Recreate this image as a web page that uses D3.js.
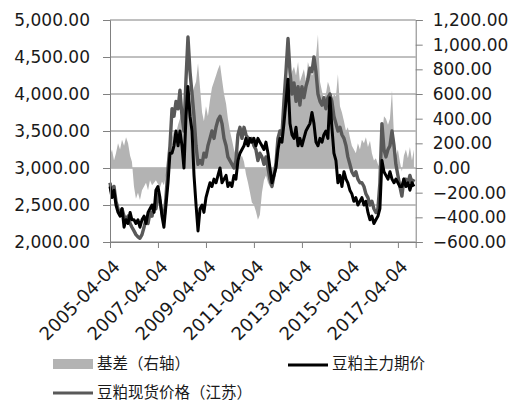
<!DOCTYPE html>
<html>
<head>
<meta charset="utf-8">
<script src="https://cdn.jsdelivr.net/npm/d3@7"></script>
<style>
  body { margin: 0; background: #fff; }
  text { fill: #1a1a1a; }
</style>
</head>
<body>
<div id="chart"></div>
<script>
// monthly readings, starting 2005-04-04
const startDate = "2005-04-04"
const tickLabels = ["2005-04-04", "2007-04-04", "2009-04-04", "2011-04-04", "2013-04-04", "2015-04-04", "2017-04-04"]
const leftTicks = [2000, 2500, 3000, 3500, 4000, 4500, 5000]
const rightTicks = [-600, -400, -200, 0, 200, 400, 600, 800, 1000, 1200]

// 豆粕现货价格（江苏）
const spot = [
  2800, 2650, 2750, 2550, 2450, 2400, 2450, 2350, 2300, 2350, 2250, 2200,
  2150, 2100, 2070, 2050, 2100, 2200, 2300, 2250, 2400, 2350, 2500, 2450,
  2650, 2550, 2400, 2300, 2600, 3000, 3300, 3800, 3700, 3900, 3800, 4050,
  3700, 3500, 4200, 4770, 4300, 4000, 3700, 3300, 3050, 3100, 3050, 3200,
  3150, 3300, 3400, 3500, 3400, 3550, 3650, 3700, 3600, 3400, 3300, 3150,
  3100, 3050, 3000, 3100, 3450, 3550, 3400, 3550, 3450, 3400, 3350, 3400,
  3300, 3250, 3100, 3200, 3150, 3050, 3150, 3000, 2850, 2750, 2900, 3050,
  3400, 3500, 3450, 3900, 4300, 4750, 4300, 4000, 4150, 3900, 4100, 3850,
  4100, 3950, 4100, 4200, 4350, 4300, 4500, 4300, 4000, 3900, 3850, 3950,
  3800, 3950, 4000, 3900, 3700, 3600, 3500, 3550, 3450, 3400, 3300, 3150,
  3050, 2950, 2900, 2950, 2850, 2800, 2800, 2750, 2650, 2600, 2500, 2550,
  2450, 2400, 2450, 2800, 3600, 3250, 3150, 3250, 3300, 3500, 3300, 3050,
  2900, 2750, 2620, 2850, 2850, 2800, 2900, 2800, 2850
]

// 豆粕主力期价
const futures = [
  2750, 2600, 2700, 2500, 2400, 2350, 2450, 2200, 2300, 2250, 2400, 2300,
  2300, 2250, 2300, 2200, 2300, 2350, 2250, 2400, 2450, 2500, 2400, 2700,
  2750, 2600, 2350, 2200, 2500, 2800, 3200, 3200, 3300, 3500, 3300, 3500,
  3300, 3000, 3700, 4100, 3700, 3500, 2900, 2500, 2150, 2450, 2500, 2400,
  2600, 2700, 2800, 2750, 2850, 2800, 2900, 3000, 2800, 2850, 2900, 2750,
  2800, 2750, 2900, 2850, 3100, 3200, 3250, 3300, 3400, 3300, 3400, 3350,
  3400, 3300, 3400, 3350, 3300, 3250, 3350, 3200, 3000, 2800, 2900, 3000,
  3250, 3400, 3350, 3600, 3900, 4200, 3600, 3450, 3400, 3550, 3300, 3400,
  3300, 3400, 3500, 3550, 3600, 3750, 3600, 3350, 3300, 3400, 3350, 3450,
  3500, 3400, 3950, 3550, 3200, 3100, 2800, 2900, 2750, 2950, 2850, 2800,
  2700, 2650, 2550, 2600, 2500, 2550, 2600, 2500, 2550, 2400, 2300, 2350,
  2250, 2300, 2350, 2450, 3100, 2950, 2900, 2850, 2950, 2850, 2800, 2850,
  2800, 2750, 2750, 2850, 2750, 2800, 2700, 2800, 2750
]

// 基差（右轴）
const basis = [
  100, 150, 60, 120, 200, 150, 230, 180, 250, 200, 100, 50,
  -150, -250, -200, -260, -180, -150, -120, -180, -100, -140, -120, -100,
  -130, -160, -110, -140, -60, 60, 150, 250, 300, 280, 350, 400,
  450, 400, 500, 550, 500, 600, 650, 700, 850, 650, 450, 380,
  500, 420, 550, 650, 700, 750, 800, 840, 720, 600, 520, 400,
  300, 230, 150, 100, 150, 80, 100, 50, -50, -120, -200, -280,
  -300, -350, -420, -380, -200, -100, -60, -120, -150, -100, 30, 50,
  150, 250, 300, 450, 600, 650, 700, 780, 820, 750, 860, 700,
  750, 800, 700, 860, 800, 750, 780, 900, 1080, 700, 620, 560,
  600, 700, 650, 540, 600, 580, 760, 500, 450, 380, 300, 330,
  250, 180, 150, 120, 200, 150, 230, 200, 250, 170, 220, 120,
  60, 80, 30, 0, 250, 420, 400, 350, 400, 630, 250, 100,
  150, 50, -30, 100, 150, 80, 170, 60, 150
]

const parse = d3.timeParse("%Y-%m-%d")
const dates = spot.map((d, i) => d3.timeMonth.offset(parse(startDate), i))

const width = 523, height = 404
const svg = d3.select("#chart").append("svg")
  .attr("width", width)
  .attr("height", height)

const plotL = 110, plotR = 415.7, plotT = 20, plotB = 242

const x = d3.scaleTime()
  .domain([parse("2005-04-04"), parse("2017-12-31")])
  .range([plotL, plotR])

const yL = d3.scaleLinear().domain([2000, 5000]).range([plotB, plotT])
const yR = d3.scaleLinear().domain([-600, 1200]).range([plotB, plotT])

const gridColor = "#808080"
const numFont = "'DejaVu Sans', Verdana, sans-serif"
const cjkFont = "'Noto Sans CJK SC', sans-serif"

// gridlines
svg.append("g").selectAll("line")
  .data(leftTicks)
  .enter().append("line")
    .attr("x1", plotL).attr("x2", plotR)
    .attr("y1", d => yL(d)).attr("y2", d => yL(d))
    .style("stroke", gridColor)
    .style("stroke-width", 1)

// basis area
svg.append("path")
  .datum(basis)
  .attr("d", d3.area()
    .x((d, i) => x(dates[i]))
    .y0(yR(0))
    .y1(d => yR(d)))
  .style("fill", "#b3b3b3")

// spot line
svg.append("path")
  .datum(spot)
  .attr("d", d3.line()
    .x((d, i) => x(dates[i]))
    .y(d => yL(d)))
  .style("fill", "none")
  .style("stroke", "#595959")
  .style("stroke-width", 3.4)
  .style("stroke-linejoin", "round")

// futures line
svg.append("path")
  .datum(futures)
  .attr("d", d3.line()
    .x((d, i) => x(dates[i]))
    .y(d => yL(d)))
  .style("fill", "none")
  .style("stroke", "#000")
  .style("stroke-width", 3)
  .style("stroke-linejoin", "round")

// axes
const fmt = d3.format(",.2f")

const gL = svg.append("g")
  .attr("transform", `translate(${plotL},0)`)
  .call(d3.axisLeft(yL).tickValues(leftTicks).tickFormat(fmt).tickSize(7).tickPadding(13))
const gR = svg.append("g")
  .attr("transform", `translate(${plotR},0)`)
  .call(d3.axisRight(yR).tickValues(rightTicks).tickFormat(fmt).tickSize(7).tickPadding(10))
const gX = svg.append("g")
  .attr("transform", `translate(0,${plotB})`)
  .call(d3.axisBottom(x).tickValues(tickLabels.map(parse)).tickFormat(d3.timeFormat("%Y-%m-%d")).tickSize(6))

;[gL, gR, gX].forEach(g => {
  g.select(".domain").style("stroke", gridColor)
  g.selectAll(".tick line").style("stroke", gridColor)
  g.selectAll("text")
    .style("font-family", numFont)
    .style("font-size", "17px")
    .style("fill", "#1a1a1a")
})

gX.selectAll("text")
  .style("font-size", "18px")
  .attr("text-anchor", "end")
  .attr("transform", "translate(1,16) rotate(-45)")
  .attr("dy", "0.75em")
  .attr("y", 0)

// legend
const legend = svg.append("g")
  .style("font-family", cjkFont)
  .style("font-size", "15.5px")

legend.append("rect")
  .attr("x", 53).attr("y", 359).attr("width", 40).attr("height", 10)
  .style("fill", "#b3b3b3")
legend.append("text").attr("x", 97).attr("y", 369).text("基差（右轴）")

legend.append("line")
  .attr("x1", 288).attr("x2", 328).attr("y1", 365).attr("y2", 365)
  .style("stroke", "#000").style("stroke-width", 3)
legend.append("text").attr("x", 332).attr("y", 369).text("豆粕主力期价")

legend.append("line")
  .attr("x1", 53).attr("x2", 93).attr("y1", 393).attr("y2", 393)
  .style("stroke", "#595959").style("stroke-width", 3)
legend.append("text").attr("x", 97).attr("y", 398).text("豆粕现货价格（江苏）")
</script>
</body>
</html>
